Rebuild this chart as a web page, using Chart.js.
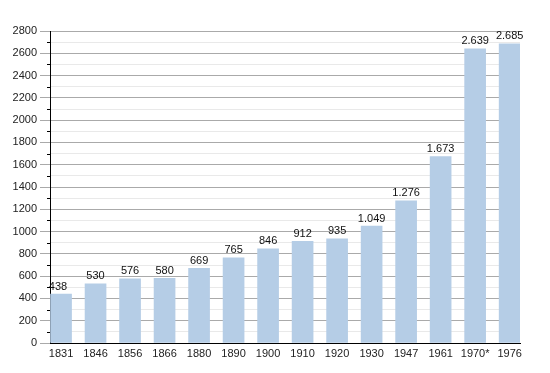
<!DOCTYPE html>
<html>
<head>
<meta charset="utf-8">
<script src="https://cdn.jsdelivr.net/npm/chart.js@4"></script>
<style>
  html, body { margin: 0; padding: 0; background: #fff; }
  #wrap { width: 550px; height: 373px; }
</style>
</head>
<body>
<div id="wrap"><canvas id="popChart" width="550" height="373"></canvas></div>
<script>
var years = ['1831', '1846', '1856', '1866', '1880', '1890', '1900', '1910', '1920', '1930', '1947', '1961', '1970*', '1976'];
var population = [438, 530, 576, 580, 669, 765, 846, 912, 935, 1049, 1276, 1673, 2639, 2685];
var yTicks = [0, 200, 400, 600, 800, 1000, 1200, 1400, 1600, 1800, 2000, 2200, 2400, 2600, 2800];

function fmt(v) {
    return v >= 1000 ? Math.floor(v / 1000) + '.' + String(v % 1000).padStart(3, '0') : String(v);
}

// value labels above the bars + short minor ticks on the y axis
var extras = {
    id: 'extras',
    afterDatasetsDraw: function(chart) {
        var ctx = chart.ctx;
        var meta = chart.getDatasetMeta(0);
        ctx.save();
        ctx.font = '11px "Liberation Sans", Arial, sans-serif';
        ctx.fillStyle = '#111';
        ctx.textAlign = 'center';
        ctx.textBaseline = 'bottom';
        meta.data.forEach(function(bar, i) {
            var x = i === 0 ? bar.x - 3 : bar.x;
            ctx.fillText(fmt(population[i]), x, bar.y - 2);
        });
        var y = chart.scales.y;
        ctx.strokeStyle = '#000';
        ctx.lineWidth = 1;
        for (var v = 100; v < 2800; v += 200) {
            var py = Math.round(y.getPixelForValue(v)) + 0.5;
            ctx.beginPath();
            ctx.moveTo(y.right - 3, py);
            ctx.lineTo(y.right, py);
            ctx.stroke();
        }
        ctx.restore();
    }
};

var ctx = document.getElementById('popChart').getContext('2d');
var chart = new Chart(ctx, {
    type: 'bar',
    data: {
        datasets: [{
            data: population.map(function(v, i) { return { x: i, y: v }; }),
            backgroundColor: '#b5cde6',
            barThickness: 21
        }]
    },
    options: {
        responsive: false,
        animation: false,
        layout: { padding: { left: 0, right: 30, top: 31, bottom: 0 } },
        plugins: {
            legend: { display: false },
            tooltip: { enabled: false }
        },
        scales: {
            x: {
                type: 'linear',
                offset: false,
                min: -0.32,
                max: 13.3,
                afterBuildTicks: function(s) {
                    s.ticks = years.map(function(y, i) { return { value: i }; });
                },
                afterFit: function(s) { s.height = 30; },
                grid: { offset: false, drawOnChartArea: false, drawTicks: false },
                border: { display: true, color: '#000', width: 1 },
                ticks: {
                    autoSkip: false,
                    maxRotation: 0,
                    padding: 4,
                    color: '#222',
                    font: { family: '"Liberation Sans", Arial, sans-serif', size: 11 },
                    callback: function(v) { return years[v]; }
                }
            },
            y: {
                min: 0,
                max: 2800,
                afterBuildTicks: function(s) {
                    var t = [];
                    for (var v = 0; v <= 2800; v += 100) t.push({ value: v });
                    s.ticks = t;
                },
                afterFit: function(s) { s.width = 50; },
                grid: {
                    color: function(c) { return c.tick && c.tick.value % 200 === 0 ? '#aaaaaa' : '#e9e9e9'; },
                    tickColor: function(c) { return c.tick && c.tick.value % 200 === 0 ? '#aaaaaa' : 'rgba(0,0,0,0)'; },
                    tickLength: 10
                },
                border: { display: true, color: '#000', width: 1 },
                ticks: {
                    autoSkip: false,
                    padding: 3,
                    color: '#222',
                    font: { family: '"Liberation Sans", Arial, sans-serif', size: 11 },
                    callback: function(v) { return yTicks.indexOf(v) >= 0 ? String(v) : ''; }
                }
            }
        }
    },
    plugins: [extras]
});
</script>
</body>
</html>
